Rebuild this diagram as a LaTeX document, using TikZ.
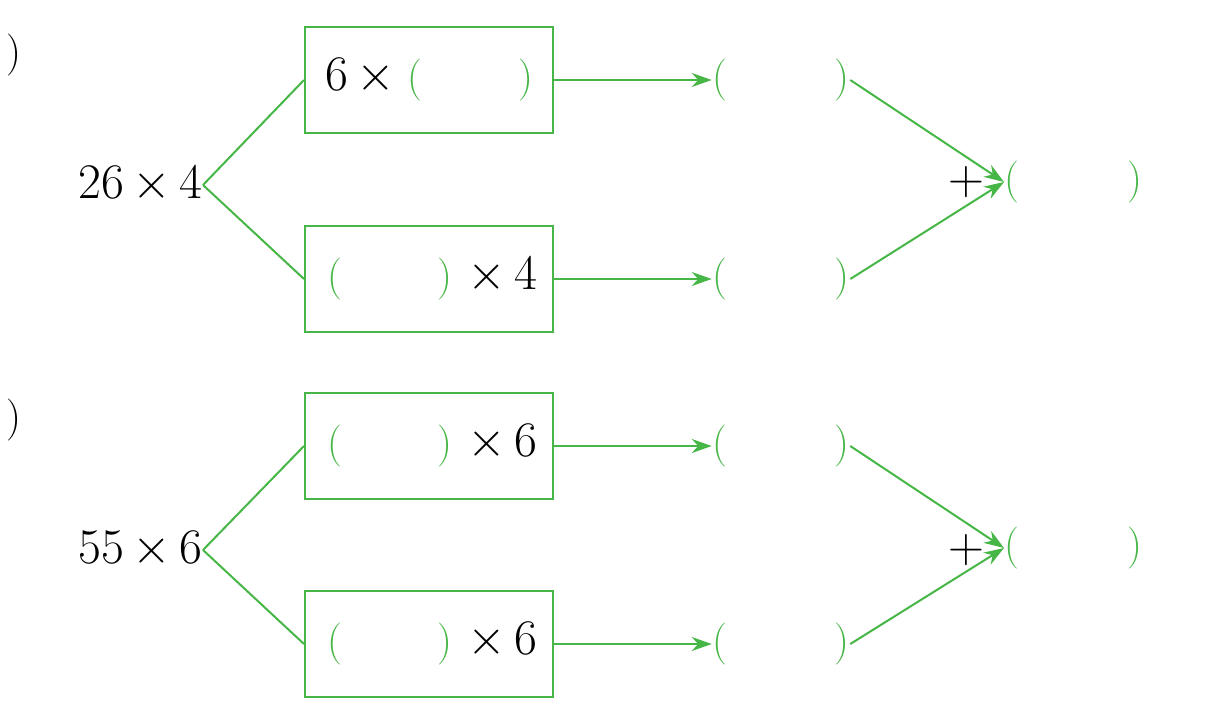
\documentclass[tikz,border=0pt]{standalone}
\usetikzlibrary{arrows.meta}
\definecolor{g}{RGB}{70,182,70}
\begin{document}
\begin{tikzpicture}[x=0.5pt,y=-0.5pt,
  every node/.style={font=\fontsize{24}{28}\selectfont, inner sep=0pt},
  box/.style={draw=g, line width=1pt, minimum width=124pt, minimum height=53pt},
  gline/.style={draw=g, line width=1pt},
  garrow/.style={draw=g, line width=1pt, -{Stealth[length=10pt,width=7pt]}},
  gp/.style={text=g, font=\fontsize{21}{26}\selectfont}]
\useasboundingbox (0,0) rectangle (1229,717);
\newcommand{\gap}[1]{{\color{g}\fontsize{21}{26}\selectfont(\hspace{#1})}}
\newcommand{\tms}{\,{\times}\,}
% group 1
\node (l1) at (14,55) {\fontsize{21}{26}\selectfont)};
\node[anchor=east] (n1) at (203,185) {$26\tms4$};
\node[box] (b1) at (429,80) {$6\tms$\hspace{2pt}\gap{48pt}};
\node[box] (b2) at (429,279) {\hspace{3pt}\gap{48pt}\hspace{3pt}$\tms4$};
\node[gp] (r1) at (781,80) {(\hspace{54pt})};
\node[gp] (r2) at (781,279) {(\hspace{54pt})};
\node (p1) at (966,182) {\fontsize{28}{30}\selectfont$+$};
\node[gp,anchor=west] (s1) at (1004,182) {(\hspace{54pt})};
\draw[gline] (n1.east) -- (b1.west);
\draw[gline] (n1.east) -- (b2.west);
\draw[garrow] (b1.east) -- (r1.west);
\draw[garrow] (b2.east) -- (r2.west);
\draw[garrow] (r1.east) -- (s1.west);
\draw[garrow] (r2.east) -- (s1.west);
% group 2
\node (l2) at (14,420) {\fontsize{21}{26}\selectfont)};
\node[anchor=east] (n2) at (203,550) {$55\tms6$};
\node[box] (b3) at (429,446) {\hspace{3pt}\gap{48pt}\hspace{3pt}$\tms6$};
\node[box] (b4) at (429,644) {\hspace{3pt}\gap{48pt}\hspace{3pt}$\tms6$};
\node[gp] (r3) at (781,446) {(\hspace{54pt})};
\node[gp] (r4) at (781,644) {(\hspace{54pt})};
\node (p2) at (966,550) {\fontsize{28}{30}\selectfont$+$};
\node[gp,anchor=west] (s2) at (1004,548) {(\hspace{54pt})};
\draw[gline] (n2.east) -- (b3.west);
\draw[gline] (n2.east) -- (b4.west);
\draw[garrow] (b3.east) -- (r3.west);
\draw[garrow] (b4.east) -- (r4.west);
\draw[garrow] (r3.east) -- (s2.west);
\draw[garrow] (r4.east) -- (s2.west);
\end{tikzpicture}
\end{document}
